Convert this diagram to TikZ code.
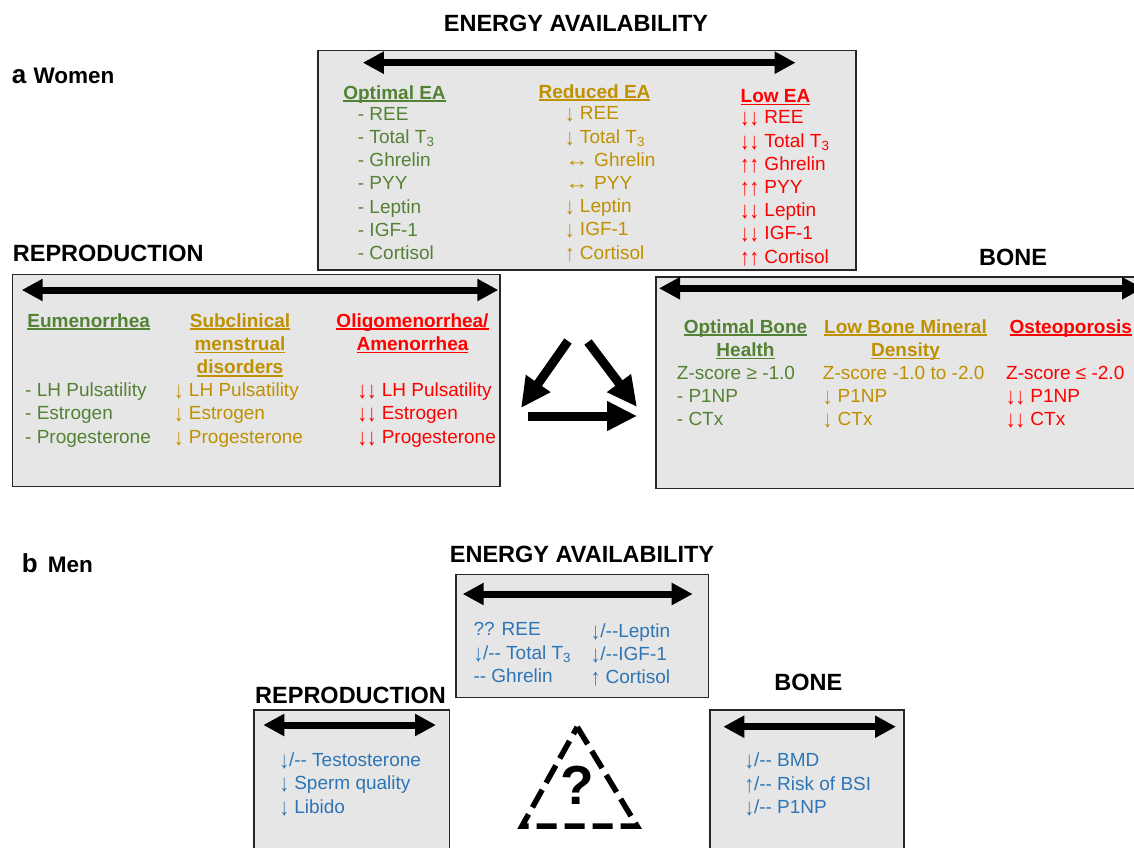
\documentclass[tikz,border=0pt]{standalone}
\usepackage{fontspec}
\usepackage{graphicx}
\setmainfont{Liberation Sans}
\usetikzlibrary{arrows.meta}

\definecolor{optgreen}{HTML}{548235}
\definecolor{midgold}{HTML}{BF9000}
\definecolor{lowred}{HTML}{FF0000}
\definecolor{menblue}{HTML}{2E75B6}
\definecolor{boxfill}{HTML}{E6E6E6}
\definecolor{boxline}{HTML}{262626}

% underline that runs through descenders, like the slide
\newcommand{\ulhead}[1]{\setbox0\hbox{#1}\rlap{\rule[-2.6pt]{\wd0}{1.5pt}}\box0}
% tall thin arrows of the slide
\newcommand{\dnar}{\raisebox{-2pt}{\scalebox{1}[1.25]{↓}}}
\newcommand{\upar}{\raisebox{-2pt}{\scalebox{1}[1.25]{↑}}}
\newcommand{\lrar}{\scalebox{1.25}[1]{↔}}

\tikzset{
  panel/.style={draw=boxline, fill=boxfill, line width=1.5pt},
  spanarrow/.style={{Triangle[length=21pt,width=21pt]}-{Triangle[length=21pt,width=21pt]}, line width=7pt},
  bigarrow/.style={-{Triangle[length=30pt,width=28pt]}, line width=9pt},
  headtitle/.style={font=\fontsize{23.5}{28}\selectfont\bfseries, anchor=base, inner sep=0pt},
  sexlbl/.style={font=\fontsize{22.5}{26}\selectfont\bfseries, anchor=base west, inner sep=0pt},
  partlbl/.style={font=\fontsize{26}{30}\selectfont\bfseries, anchor=base west, inner sep=0pt},
  colhead/.style={font=\fontsize{19}{23.3}\selectfont\bfseries, align=center, anchor=base, inner sep=0pt},
  items/.style={font=\fontsize{19}{23.2}\selectfont, align=left, anchor=base west, inner sep=0pt},
}

\begin{document}
\begin{tikzpicture}[x=1pt,y=-1pt]
\useasboundingbox (0,0) rectangle (1134,847);
% note: multi-line nodes sit on the baseline of their last line

%%%%%%%%%%%%%%%% a  Women
\node[partlbl] (lbl-a) at (11.7,83.3) {a};
\node[sexlbl] (lbl-women) at (33.3,83.3) {Women};

%Shape: Rectangle  energy availability
\node[headtitle] (ea-w-title) at (576,31.7) {ENERGY AVAILABILITY};
\draw[panel] (318,50.7) rectangle (856,270);
\coordinate (ea-w-l) at (362.8,62.7);
\coordinate (ea-w-r) at (795.6,62.7);
\draw[spanarrow] (ea-w-l) -- (ea-w-r);

% Text Node
\node[colhead, text=optgreen] (ea-opt-head) at (394.5,99) {\ulhead{Optimal EA}};
\node[colhead, text=midgold] (ea-red-head) at (594.5,98) {\ulhead{Reduced EA}};
\node[colhead, text=lowred] (ea-low-head) at (775.5,102.7) {\ulhead{Low EA}};
% Text Node
\node[items, text=optgreen] (ea-opt) at (357.7,259.5) {- REE\\- Total T\textsubscript{3}\\- Ghrelin\\- PYY\\- Leptin\\- IGF-1\\- Cortisol};
\node[items, text=midgold] (ea-red) at (565,259) {\dnar{} REE\\\dnar{} Total T\textsubscript{3}\\\lrar{} Ghrelin\\\lrar{} PYY\\\dnar{} Leptin\\\dnar{} IGF-1\\\upar{} Cortisol};
\node[items, text=lowred] (ea-low) at (740,263) {\dnar\dnar{} REE\\\dnar\dnar{} Total T\textsubscript{3}\\\upar\upar{} Ghrelin\\\upar\upar{} PYY\\\dnar\dnar{} Leptin\\\dnar\dnar{} IGF-1\\\upar\upar{} Cortisol};

%Shape: Rectangle  reproduction
\node[headtitle, anchor=base west] (rep-w-title) at (12.7,261.7) {REPRODUCTION};
\draw[panel] (12.3,274.5) rectangle (500,486.7);
\coordinate (rep-w-l) at (21.7,290);
\coordinate (rep-w-r) at (498.3,290);
\draw[spanarrow] (rep-w-l) -- (rep-w-r);

% Text Node
\node[colhead, text=optgreen] (rep-opt-head) at (88.7,327.3) {\ulhead{Eumenorrhea}};
\node[colhead, text=midgold] (rep-sub-head) at (240,373.9) {\ulhead{Subclinical}\\\ulhead{menstrual}\\\ulhead{disorders}};
\node[colhead, text=lowred] (rep-low-head) at (412.5,350.6) {\ulhead{Oligomenorrhea/}\\\ulhead{Amenorrhea}};
% Text Node
\node[items, text=optgreen] (rep-opt) at (25,443.1) {- LH Pulsatility\\- Estrogen\\- Progesterone};
\node[items, text=midgold] (rep-sub) at (174,443.1) {\dnar{} LH Pulsatility\\\dnar{} Estrogen\\\dnar{} Progesterone};
\node[items, text=lowred] (rep-low) at (357.3,443.1) {\dnar\dnar{} LH Pulsatility\\\dnar\dnar{} Estrogen\\\dnar\dnar{} Progesterone};

%Shape: Rectangle  bone
\node[headtitle] (bone-w-title) at (1013,265) {BONE};
\draw[panel] (656,277) rectangle (1142,488.3);
\coordinate (bone-w-l) at (659,288.3);
\coordinate (bone-w-r) at (1143,288.3);
\draw[spanarrow] (bone-w-l) -- (bone-w-r);

% Text Node
\node[colhead, text=optgreen] (bone-opt-head) at (745.5,356.6) {\ulhead{Optimal Bone}\\\ulhead{Health}};
\node[colhead, text=midgold] (bone-low-head) at (905.5,356.6) {\ulhead{Low Bone Mineral}\\\ulhead{Density}};
\node[colhead, text=lowred, anchor=base west] (bone-ost-head) at (1009.3,333.3) {\ulhead{Osteoporosis}};
% Text Node
\node[items, text=optgreen] (bone-opt) at (676.7,425.7) {Z-score ≥ -1.0\\- P1NP\\- CTx};
\node[items, text=midgold] (bone-low) at (822.7,425.7) {Z-score -1.0 to -2.0\\\dnar{} P1NP\\\dnar{} CTx};
\node[items, text=lowred] (bone-ost) at (1006,425.7) {Z-score ≤ -2.0\\\dnar\dnar{} P1NP\\\dnar\dnar{} CTx};

%Arrows  triad
\coordinate (tri-a1) at (568,341);
\coordinate (tri-a2) at (521,408);
\coordinate (tri-b1) at (588,342);
\coordinate (tri-b2) at (637,407);
\coordinate (tri-c1) at (528,416);
\coordinate (tri-c2) at (637,416);
\draw[bigarrow] (tri-a1) -- (tri-a2);
\draw[bigarrow] (tri-b1) -- (tri-b2);
\draw[bigarrow] (tri-c1) -- (tri-c2);

%%%%%%%%%%%%%%%% b  Men
\node[partlbl] (lbl-b) at (21.7,572.7) {b};
\node[sexlbl] (lbl-men) at (47.7,572.7) {Men};

%Shape: Rectangle  energy availability
\node[headtitle] (ea-m-title) at (582,562.7) {ENERGY AVAILABILITY};
\draw[panel] (456,574.3) rectangle (708.3,697.3);
\coordinate (ea-m-l) at (462.7,594);
\coordinate (ea-m-r) at (692.7,594);
\draw[spanarrow] (ea-m-l) -- (ea-m-r);
% Text Node
\node[items, text=menblue] (ea-m-a) at (473.3,682.2) {?? REE\\\dnar/-{}- Total T\textsubscript{3}\\-{}- Ghrelin};
\node[items, text=menblue] (ea-m-b) at (590.7,683.5) {\dnar/-{}-Leptin\\\dnar/-{}-IGF-1\\\upar{} Cortisol};

%Shape: Rectangle  reproduction
\node[headtitle, anchor=base west] (rep-m-title) at (255,703.3) {REPRODUCTION};
\draw[panel] (254,710) rectangle (449.3,852);
\coordinate (rep-m-l) at (263.3,725);
\coordinate (rep-m-r) at (436,725);
\draw[spanarrow] (rep-m-l) -- (rep-m-r);
% Text Node
\node[items, text=menblue] (rep-m) at (279.3,813) {\dnar/-{}- Testosterone\\\dnar{} Sperm quality\\\dnar{} Libido};

%Shape: Rectangle  bone
\node[headtitle] (bone-m-title) at (808.3,690.7) {BONE};
\draw[panel] (710,710) rectangle (904,852);
\coordinate (bone-m-l) at (723.3,726.7);
\coordinate (bone-m-r) at (896,726.7);
\draw[spanarrow] (bone-m-l) -- (bone-m-r);
% Text Node
\node[items, text=menblue] (bone-m) at (744.3,813.2) {\dnar/-{}- BMD\\\upar/-{}- Risk of BSI\\\dnar/-{}- P1NP};

%Shape: Triangle  unknown triad
\coordinate (q-top) at (577.3,727);
\coordinate (q-left) at (522,826);
\coordinate (q-right) at (637,826);
\draw[line width=5.5pt, dash pattern=on 20pt off 8pt] (q-top) -- (q-right) -- (q-left) -- cycle;
\node[font=\fontsize{55}{60}\selectfont\bfseries, anchor=base, inner sep=0pt] (q-mark) at (577,804) {?};

\end{tikzpicture}
\end{document}
